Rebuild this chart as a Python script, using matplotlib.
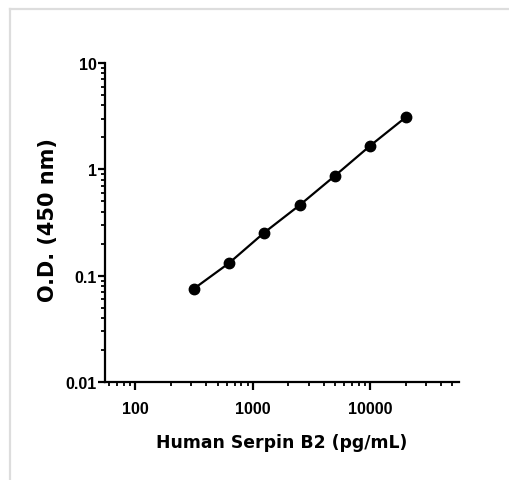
import numpy as np
import matplotlib.pyplot as plt
from matplotlib.ticker import LogLocator, FixedFormatter, FixedLocator, NullFormatter

conc = [312.5, 625, 1250, 2500, 5000, 10000, 20000]
od = [0.075, 0.131, 0.254, 0.46, 0.87, 1.67, 3.08]

x_ticks = [100, 1000, 10000]
x_labels = ['100', '1000', '10000']
y_ticks = [0.01, 0.1, 1, 10]
y_labels = ['0.01', '0.1', '1', '10']

tick_font = ['Liberation Sans', 'DejaVu Sans']

fig = plt.figure(figsize=(5.1, 4.81), dpi=100)
ax = fig.add_axes([105/510, 1-383/481, 354/510, 319/481])

ax.plot(conc, od, color='black', lw=1.6, marker='o', ms=7.5)
ax.set_xscale('log')
ax.set_yscale('log')
ax.set_xlim(55, 57000)
ax.set_ylim(0.01, 10)

ax.xaxis.set_major_locator(FixedLocator(x_ticks))
ax.xaxis.set_major_formatter(FixedFormatter(x_labels))
ax.xaxis.set_minor_locator(LogLocator(base=10, subs=np.arange(2, 10)))
ax.xaxis.set_minor_formatter(NullFormatter())
ax.yaxis.set_major_locator(FixedLocator(y_ticks))
ax.yaxis.set_major_formatter(FixedFormatter(y_labels))
ax.yaxis.set_minor_locator(LogLocator(base=10, subs=np.arange(2, 10)))
ax.yaxis.set_minor_formatter(NullFormatter())

for s in ['top', 'right']:
    ax.spines[s].set_visible(False)
for s in ['left', 'bottom']:
    ax.spines[s].set_linewidth(1.6)

ax.tick_params(which='major', axis='x', length=6, width=1.6, pad=8)
ax.tick_params(which='major', axis='y', length=5, width=1.6, pad=1)
ax.tick_params(which='minor', length=3, width=1.3)
for lab in ax.get_xticklabels() + ax.get_yticklabels():
    lab.set_family(tick_font)
    lab.set_fontsize(11.5)
    lab.set_fontweight('bold')

ax.set_xlabel('Human Serpin B2 (pg/mL)', fontsize=12.4, fontweight='bold', va='center')
ax.xaxis.set_label_coords(0.5, -0.188)
ax.set_ylabel('O.D. (450 nm)', fontsize=15, fontweight='bold', va='center')
ax.yaxis.set_label_coords(-0.161, 0.51)

# light gray frame around the panel
fig.add_artist(plt.Line2D([10/510, 10/510], [0, 1-10/481], color='#dddddd', lw=1.6))
fig.add_artist(plt.Line2D([10/510, 1], [1-10/481, 1-10/481], color='#dddddd', lw=1.6))

plt.savefig('out.png', dpi=100)
